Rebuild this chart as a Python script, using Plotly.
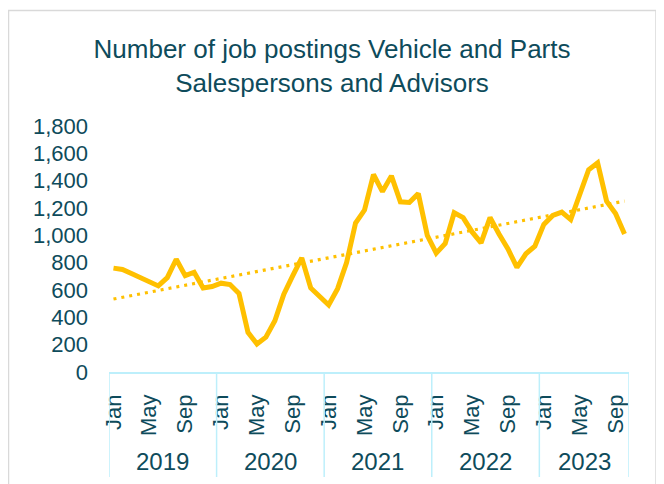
import numpy as np
import plotly.graph_objects as go

# ---------------- data ----------------
years = ["2019", "2020", "2021", "2022", "2023"]
month_names = ["Jan", "Feb", "Mar", "Apr", "May", "Jun",
               "Jul", "Aug", "Sep", "Oct", "Nov", "Dec"]
shown_months = ["Jan", "May", "Sep"]
months_per_year = [12, 12, 12, 12, 10]

postings = [
    760, 750, 720, 690, 660, 630, 690, 825, 705, 730, 615, 625,      # 2019
    650, 640, 575, 290, 205, 255, 375, 570, 705, 835, 615, 550,      # 2020
    490, 610, 800, 1090, 1185, 1445, 1320, 1435, 1245, 1240, 1305, 1000,  # 2021
    870, 940, 1165, 1130, 1025, 945, 1130, 1010, 900, 765, 865, 920,  # 2022
    1080, 1145, 1170, 1115, 1305, 1480, 1530, 1250, 1160, 1010,      # 2023
]

title_text = "Number of job postings Vehicle and Parts<br>Salespersons and Advisors"

# ---------------- derived ----------------
month_labels = []
for y, n in zip(years, months_per_year):
    for m in range(n):
        month_labels.append(month_names[m])

x = np.arange(len(postings))
slope, intercept = np.polyfit(x, postings, 1)
trend = slope * x + intercept

tickvals = [i for i, m in enumerate(month_labels) if m in shown_months]
ticktext = [month_labels[i] for i in tickvals]

edges = [-0.5]
acc = -0.5
for n in months_per_year:
    acc += n
    edges.append(acc)
year_centers = [(edges[i] + edges[i + 1]) / 2 for i in range(len(years))]

# ---------------- style / layout ----------------
OFF = 8                      # page body margin offset
PAGE_W, PAGE_H = 664, 484
W, H = PAGE_W - OFF, PAGE_H - OFF
# plot-area edges in page pixels
PX_L, PX_R, PX_T, PX_B = 109, 629, 126, 372
L, R, T, B = PX_L - OFF, W - (PX_R - OFF), PX_T - OFF, H - (PX_B - OFF)

TEXT = "#0e4b5b"
GOLD = "#FFC000"
DIV = "#bdeffb"
FONT = "Arial, Liberation Sans, sans-serif"

plot_w = PX_R - PX_L
plot_h = PX_B - PX_T

def px_to_paper_x(px):
    return (px - PX_L) / plot_w

def px_to_paper_y(py):
    return (PX_B - py) / plot_h

fig = go.Figure()
fig.add_trace(go.Scatter(
    x=x, y=postings, mode="lines",
    line=dict(color=GOLD, width=5),
    hoverinfo="skip", showlegend=False,
))
fig.add_trace(go.Scatter(
    x=x, y=trend, mode="lines",
    line=dict(color=GOLD, width=3.2, dash="3px,5px"),
    hoverinfo="skip", showlegend=False,
))

shapes = []
shapes.append(dict(type="rect", xref="paper", yref="paper",
                   x0=px_to_paper_x(8.5), x1=px_to_paper_x(656),
                   y0=px_to_paper_y(540), y1=px_to_paper_y(10.5),
                   line=dict(color="#d9d9d9", width=1.5), layer="below"))
for e in edges:
    shapes.append(dict(type="line", xref="x", yref="paper",
                       x0=e, x1=e, y0=0, y1=px_to_paper_y(477),
                       line=dict(color=DIV, width=1.5)))

annotations = []
for yr, c in zip(years, year_centers):
    annotations.append(dict(x=c, xref="x", y=px_to_paper_y(462), yref="paper",
                            text=yr, showarrow=False,
                            font=dict(family=FONT, size=24, color=TEXT),
                            xanchor="center", yanchor="middle"))

fig.update_layout(
    width=W, height=H,
    margin=dict(l=L, r=R, t=T, b=B, pad=0, autoexpand=False),
    paper_bgcolor="white", plot_bgcolor="white",
    title=dict(text=title_text, x=(332 - OFF) / W, xref="container", xanchor="center",
               y=1 - (58 - OFF) / H, yanchor="top", yref="container",
               font=dict(family=FONT, size=26, color=TEXT)),
    xaxis=dict(range=[edges[0], edges[-1]], tickmode="array",
               tickvals=tickvals, ticktext=ticktext, tickangle=-90,
               showgrid=False, zeroline=False, showline=True,
               linecolor=DIV, linewidth=1.5, ticks="",
               ticklabelstandoff=12,
               tickfont=dict(family=FONT, size=22, color=TEXT)),
    yaxis=dict(range=[0, 1800], dtick=200, tickformat=",",
               showgrid=False, zeroline=False, showline=False, ticks="",
               ticklabelstandoff=20,
               tickfont=dict(family=FONT, size=22, color=TEXT)),
    shapes=shapes,
    annotations=annotations,
)

fig.write_html("out.html")
